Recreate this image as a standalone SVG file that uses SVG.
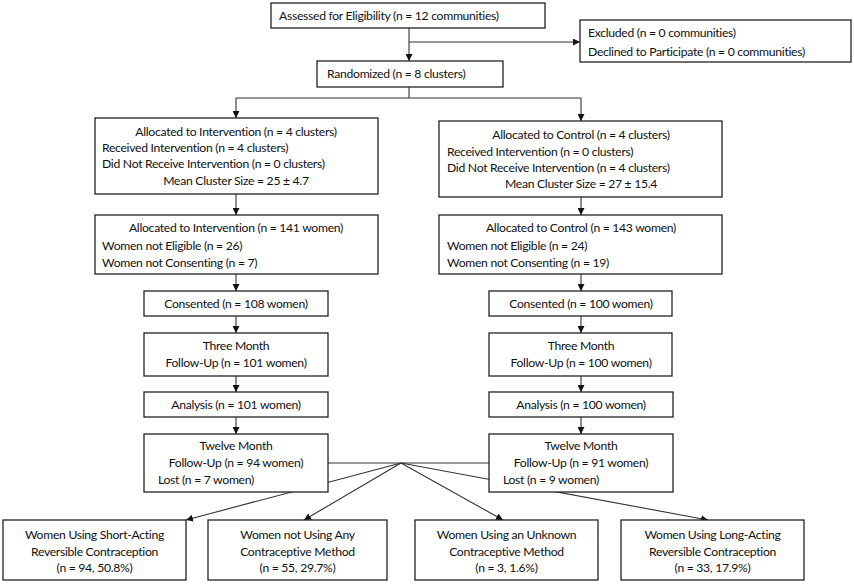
<svg xmlns="http://www.w3.org/2000/svg" width="854" height="584" viewBox="0 0 854 584">
<defs>
<marker id="ah" viewBox="0 0 10 10" refX="10" refY="5" markerWidth="7" markerHeight="7" markerUnits="userSpaceOnUse" orient="auto">
<path d="M0,0 L10,5 L0,10 z" fill="#111"/>
</marker>
<style>
.box{fill:#fff;stroke:#222;stroke-width:1.3}
.ln{fill:none;stroke:#333;stroke-width:1.1}
.ar{fill:none;stroke:#333;stroke-width:1.1;marker-end:url(#ah)}
text{font-family:"Lato","Liberation Sans",sans-serif;font-size:12.2px;letter-spacing:-0.3px;fill:#111}
.c{text-anchor:middle}
</style>
</defs>
<rect width="854" height="584" fill="#fff"/>
<g id="connectors">
<path class="ar" d="M409,28 V61"/>
<path class="ar" d="M409,42 H580"/>
<path class="ln" d="M409,87 V98 M236,98 H581"/>
<path class="ar" d="M236,98 V118"/>
<path class="ar" d="M581,98 V121"/>
<path class="ar" d="M236,194 V215"/>
<path class="ar" d="M236,274 V291"/>
<path class="ar" d="M236,316 V333"/>
<path class="ar" d="M236,376 V392"/>
<path class="ar" d="M236,417 V434"/>
<path class="ar" d="M581,197 V215"/>
<path class="ar" d="M581,274 V291"/>
<path class="ar" d="M581,316 V333"/>
<path class="ar" d="M581,376 V392"/>
<path class="ar" d="M581,417 V434"/>
<path class="ln" d="M328,463 H489"/>
<path class="ar" d="M401,463 L186,520"/>
<path class="ar" d="M401,463 L304,520"/>
<path class="ar" d="M401,463 L503,520"/>
<path class="ar" d="M401,463 L708,520"/>
</g>
<g id="assessed"><rect class="box" x="271" y="3" width="274" height="25"/><text x="279" y="20">Assessed for Eligibility (n = 12 communities)</text></g>
<g id="excluded"><rect class="box" x="580" y="20" width="271" height="42"/><text x="588" y="37">Excluded (n = 0 communities)</text><text x="588" y="56">Declined to Participate (n = 0 communities)</text></g>
<g id="randomized"><rect class="box" x="317" y="61" width="186" height="26"/><text x="327" y="78">Randomized (n = 8 clusters)</text></g>
<g id="int-clusters"><rect class="box" x="95" y="118" width="283" height="76"/>
<text class="c" x="236" y="136">Allocated to Intervention (n = 4 clusters)</text>
<text x="102" y="152">Received Intervention (n = 4 clusters)</text>
<text x="102" y="168">Did Not Receive Intervention (n = 0 clusters)</text>
<text class="c" x="236" y="185">Mean Cluster Size = 25 ± 4.7</text></g>
<g id="ctl-clusters"><rect class="box" x="439" y="121" width="283" height="76"/>
<text class="c" x="581" y="139">Allocated to Control (n = 4 clusters)</text>
<text x="447" y="156">Received Intervention (n = 0 clusters)</text>
<text x="447" y="172">Did Not Receive Intervention (n = 4 clusters)</text>
<text class="c" x="581" y="188">Mean Cluster Size = 27 ± 15.4</text></g>
<g id="int-women"><rect class="box" x="95" y="215" width="283" height="59"/>
<text class="c" x="236" y="232">Allocated to Intervention (n = 141 women)</text>
<text x="102" y="250">Women not Eligible (n = 26)</text>
<text x="102" y="267">Women not Consenting (n = 7)</text></g>
<g id="ctl-women"><rect class="box" x="439" y="215" width="283" height="59"/>
<text class="c" x="581" y="232">Allocated to Control (n = 143 women)</text>
<text x="447" y="250">Women not Eligible (n = 24)</text>
<text x="447" y="267">Women not Consenting (n = 19)</text></g>
<g id="int-consented"><rect class="box" x="144" y="291" width="184" height="25"/><text class="c" x="236" y="308">Consented (n = 108 women)</text></g>
<g id="ctl-consented"><rect class="box" x="489" y="291" width="183" height="25"/><text class="c" x="581" y="308">Consented (n = 100 women)</text></g>
<g id="int-3m"><rect class="box" x="144" y="333" width="184" height="43"/><text class="c" x="236" y="350">Three Month</text><text class="c" x="236" y="367">Follow-Up (n = 101 women)</text></g>
<g id="ctl-3m"><rect class="box" x="489" y="333" width="183" height="43"/><text class="c" x="581" y="350">Three Month</text><text class="c" x="581" y="367">Follow-Up (n = 100 women)</text></g>
<g id="int-analysis"><rect class="box" x="144" y="392" width="184" height="25"/><text class="c" x="236" y="409">Analysis (n = 101 women)</text></g>
<g id="ctl-analysis"><rect class="box" x="489" y="392" width="184" height="25"/><text class="c" x="581" y="409">Analysis (n = 100 women)</text></g>
<g id="int-12m"><rect class="box" x="144" y="434" width="184" height="58"/><text class="c" x="236" y="450">Twelve Month</text><text class="c" x="236" y="467">Follow-Up (n = 94 women)</text><text x="158" y="484">Lost (n = 7 women)</text></g>
<g id="ctl-12m"><rect class="box" x="489" y="434" width="184" height="58"/><text class="c" x="581" y="450">Twelve Month</text><text class="c" x="581" y="467">Follow-Up (n = 91 women)</text><text x="503" y="484">Lost (n = 9 women)</text></g>
<g id="sarc"><rect class="box" x="3" y="520" width="183" height="60"/><text class="c" x="94.5" y="539">Women Using Short-Acting</text><text class="c" x="94.5" y="556">Reversible Contraception</text><text class="c" x="94.5" y="572">(n = 94, 50.8%)</text></g>
<g id="none"><rect class="box" x="208" y="520" width="179" height="60"/><text class="c" x="297.5" y="539">Women not Using Any</text><text class="c" x="297.5" y="556">Contraceptive Method</text><text class="c" x="297.5" y="572">(n = 55, 29.7%)</text></g>
<g id="unknown"><rect class="box" x="415" y="520" width="183" height="60"/><text class="c" x="506.5" y="539">Women Using an Unknown</text><text class="c" x="506.5" y="556">Contraceptive Method</text><text class="c" x="506.5" y="572">(n = 3, 1.6%)</text></g>
<g id="larc"><rect class="box" x="621" y="520" width="183" height="60"/><text class="c" x="712.5" y="539">Women Using Long-Acting</text><text class="c" x="712.5" y="556">Reversible Contraception</text><text class="c" x="712.5" y="572">(n = 33, 17.9%)</text></g>
</svg>
